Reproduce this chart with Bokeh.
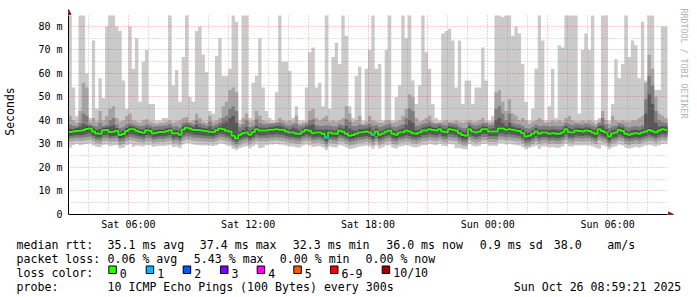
import datetime as dt
from bokeh.plotting import figure
from bokeh.layouts import column
from bokeh.models import (FixedTicker, CustomJSTickFormatter, DatetimeTickFormatter,
                          Arrow, NormalHead, Range1d, ColumnDataSource, Title)
from bokeh.core.properties import value
from bokeh.embed import file_html
from bokeh.resources import INLINE

# ---------------- data (milliseconds, 10-minute bins) ----------------
START = dt.datetime(2025, 10, 25, 3, 0)
STEP_MIN = 10

rtt_max = [100, 54, 42, 100, 100, 60, 41, 74, 45, 58,
           49.5, 80, 100, 100, 80, 78, 57, 45, 80, 62,
           75, 48, 65, 70, 47, 47, 40, 40, 41, 41,
           100, 55, 61.5, 48, 67, 100, 50, 48, 78, 80,
           68, 60.5, 44, 43, 67.5, 75, 59, 59, 62, 100,
           82, 40, 100, 100, 41, 56, 59, 75, 54, 44,
           41, 40, 52, 100, 65, 65, 61, 41, 46, 40,
           40, 54, 69, 71, 54, 56, 46, 100, 45, 67,
           73, 64, 100, 76, 46, 41, 59, 63, 40, 62,
           70, 100, 62, 64, 40, 70, 100, 40, 50, 55,
           100, 75, 100, 57, 47, 55, 100, 69, 62, 47,
           41, 40, 77, 78, 79, 74, 54, 74, 47, 57,
           57, 47, 54, 54, 71, 57, 40, 42, 100, 100,
           84, 100, 100, 76, 80, 77, 64, 48, 40, 45,
           62, 100, 74, 40, 46, 62, 41, 72, 71, 100,
           100, 100, 100, 43, 70, 77, 70, 100, 40, 41,
           100, 100, 40, 47, 66, 58, 64, 100, 67, 74,
           72, 58, 82, 57, 100, 100, 53, 53, 80, 80]

rtt_p9 = [42, 40, 39, 44, 56, 54, 39.5, 41, 39.5, 44,
          40, 42, 45, 46, 41, 39.5, 40, 42, 43, 40,
          39.5, 39, 40, 40.5, 39.5, 39, 38.5, 39, 39, 39.5,
          40, 39, 39.5, 40, 41, 41.5, 39.5, 40, 43, 41,
          39.5, 39, 42, 39.5, 40, 41, 46, 48, 53, 54,
          52, 38.5, 41, 43, 39.5, 40, 44, 42, 40, 39.5,
          39, 39, 39.5, 41, 40, 39.5, 40, 39.5, 42, 38.5,
          39, 39.5, 44, 45, 41, 40, 41, 42, 39.5, 40,
          39.5, 40, 41, 46, 43, 39.5, 40, 42, 38.5, 39.5,
          42, 40, 39.5, 39, 39, 40, 40, 39, 39.5, 40,
          42, 45, 51, 50, 41, 39.5, 40, 41, 42, 39.5,
          39, 39, 39.5, 40, 39.5, 39.5, 40, 39.5, 39, 39.5,
          40, 39.5, 39.5, 40, 41, 39.5, 39, 39.5, 52, 53,
          48, 44, 49, 43, 42, 40, 41, 40, 38.5, 39.5,
          40, 41, 40, 39, 39.5, 40, 39.5, 40, 39.5, 41,
          42, 40, 39.5, 39.5, 40, 39.5, 40, 39.5, 38.5, 39.5,
          44, 40, 38.5, 42, 40, 39.5, 40, 39.5, 39.5, 40,
          40, 41, 42, 56, 68, 62, 50, 43, 42, 41]

rtt_p8 = [38.3, 37.8, 37.5, 39.0, 43.0, 42.0, 38.3, 37.8, 37.4, 39.0,
          37.8, 38.2, 40.0, 41.0, 38.3, 36.8, 37.2, 38.3, 38.8, 38.3,
          38.0, 37.5, 37.8, 38.4, 38.0, 37.4, 37.5, 37.6, 37.8, 38.0,
          38.4, 37.4, 37.5, 37.0, 38.9, 39.3, 38.8, 38.3, 40.0, 38.8,
          38.3, 37.9, 39.5, 37.8, 38.4, 39.2, 41.0, 42.0, 45.0, 46.0,
          44.0, 37.2, 38.3, 40.0, 37.2, 37.9, 40.5, 38.8, 38.4, 38.4,
          38.6, 38.6, 38.9, 39.2, 38.7, 38.0, 37.9, 38.4, 38.6, 37.5,
          37.9, 38.6, 40.0, 40.5, 38.0, 37.8, 37.6, 38.0, 37.9, 37.5,
          37.4, 38.5, 38.0, 40.5, 39.5, 37.6, 37.6, 38.3, 37.9, 38.1,
          38.6, 37.8, 38.1, 37.2, 37.5, 38.2, 38.6, 37.3, 37.2, 37.9,
          38.4, 41.0, 45.0, 44.0, 37.7, 37.9, 38.6, 38.8, 39.4, 38.6,
          38.4, 38.8, 38.2, 38.0, 38.8, 38.6, 38.4, 37.4, 36.8, 36.7,
          38.9, 38.2, 37.8, 38.3, 38.9, 38.8, 38.0, 38.2, 45.0, 46.0,
          43.0, 40.0, 43.0, 39.0, 38.5, 38.3, 37.6, 36.8, 36.6, 37.3,
          38.3, 37.6, 37.8, 37.7, 37.4, 37.8, 37.5, 37.4, 37.8, 39.0,
          38.4, 38.0, 38.6, 38.4, 38.2, 38.6, 38.4, 37.8, 37.3, 38.9,
          41.0, 38.3, 36.8, 37.5, 37.8, 38.8, 38.4, 37.4, 37.0, 37.4,
          37.6, 37.4, 38.0, 49.0, 59.0, 55.0, 44.0, 40.0, 39.2, 39.0]

rtt_p7 = [36.5, 36.4, 36.8, 37.4, 38.5, 38.0, 37.6, 36.6, 35.9, 36.4,
          36.9, 37.2, 37.6, 38.0, 36.8, 35.2, 35.6, 36.8, 37.6, 37.3,
          36.8, 36.3, 36.1, 37.0, 36.7, 35.8, 36.0, 36.3, 36.2, 36.7,
          37.0, 35.7, 35.9, 35.3, 37.5, 38.2, 37.8, 37.2, 38.2, 37.2,
          36.8, 36.6, 37.4, 36.2, 37.0, 37.9, 38.8, 39.5, 41.0, 42.0,
          39.0, 35.2, 36.0, 37.2, 35.3, 36.3, 37.8, 37.0, 36.9, 36.9,
          37.2, 37.3, 37.6, 37.8, 37.3, 36.6, 36.3, 37.0, 36.5, 35.6,
          36.6, 37.3, 38.0, 38.3, 36.3, 36.2, 36.0, 36.2, 36.2, 35.8,
          35.6, 37.0, 36.5, 37.8, 36.6, 35.8, 35.6, 36.4, 36.3, 36.6,
          37.0, 35.6, 36.6, 35.4, 35.8, 36.6, 37.0, 35.7, 35.4, 36.2,
          36.6, 38.2, 40.0, 39.0, 35.8, 36.2, 37.0, 37.4, 37.8, 37.1,
          36.9, 37.5, 36.6, 36.5, 37.5, 37.3, 37.0, 36.0, 35.3, 35.1,
          37.5, 36.6, 36.3, 36.7, 37.6, 37.3, 36.4, 36.7, 40.0, 41.0,
          39.0, 37.6, 39.0, 37.5, 37.0, 36.8, 36.1, 35.0, 35.0, 35.7,
          36.8, 36.0, 36.2, 36.1, 36.0, 36.3, 36.0, 35.9, 36.2, 37.6,
          36.8, 36.4, 37.0, 36.9, 36.7, 37.1, 36.9, 36.3, 35.8, 37.6,
          38.0, 36.4, 35.0, 36.0, 36.3, 37.4, 37.0, 35.8, 35.4, 35.9,
          36.1, 35.8, 36.4, 43.0, 51.0, 47.0, 39.0, 37.4, 37.6, 37.5]

rtt_med = [35.1, 35.3, 35.5, 35.6, 35.8, 36.4, 36.6, 35.3, 34.5, 34.3,
           35.8, 35.9, 35.0, 35.2, 35.6, 33.8, 34.2, 35.5, 36.3, 36.3,
           35.6, 35.1, 34.8, 35.8, 35.6, 34.5, 34.8, 35.1, 35.0, 35.4,
           35.8, 34.4, 34.6, 33.9, 36.2, 37.0, 36.6, 36.0, 35.9, 35.8,
           35.6, 35.4, 35.2, 35.0, 35.8, 36.6, 36.3, 35.6, 35.3, 33.5,
           32.3, 33.9, 34.6, 34.9, 33.9, 35.0, 36.3, 35.7, 35.7, 35.7,
           36.0, 36.0, 36.3, 36.0, 36.0, 35.3, 34.9, 34.9, 34.3, 34.3,
           35.3, 36.0, 35.6, 34.6, 34.9, 34.9, 34.3, 32.8, 34.9, 34.5,
           34.3, 35.7, 35.2, 34.3, 33.5, 33.8, 34.3, 34.9, 35.0, 35.3,
           34.9, 33.9, 35.3, 33.9, 34.5, 35.3, 35.7, 34.3, 33.9, 34.9,
           35.0, 35.7, 35.3, 34.6, 34.3, 34.9, 35.7, 35.7, 36.3, 35.9,
           35.7, 36.3, 35.3, 35.0, 36.3, 36.0, 35.7, 34.6, 33.8, 33.5,
           36.3, 35.3, 34.9, 35.3, 36.3, 36.3, 35.3, 35.3, 35.3, 36.6,
           36.6, 36.0, 36.3, 36.0, 35.7, 35.5, 34.6, 33.2, 33.5, 34.3,
           35.3, 34.3, 34.9, 34.9, 34.3, 34.6, 34.3, 34.3, 34.9, 36.3,
           35.0, 34.9, 35.7, 35.5, 35.3, 35.7, 35.5, 34.9, 34.3, 36.3,
           35.5, 34.9, 33.2, 34.5, 34.9, 36.0, 35.5, 34.3, 33.9, 34.3,
           34.6, 34.3, 34.9, 35.3, 35.9, 35.4, 34.9, 35.7, 36.3, 36.0]

rtt_p4 = [33.4, 33.6, 33.8, 33.7, 33.9, 34.2, 34.4, 33.5, 32.8, 32.6,
          33.8, 34.0, 33.2, 33.4, 33.6, 32.2, 32.6, 33.6, 34.2, 34.0,
          33.6, 33.3, 33.0, 33.8, 33.7, 32.8, 33.0, 33.3, 33.2, 33.5,
          33.9, 32.6, 32.9, 32.3, 34.0, 34.6, 34.5, 34.0, 33.8, 33.7,
          33.6, 33.5, 33.3, 33.2, 33.8, 34.5, 34.2, 33.6, 33.2, 31.8,
          31.0, 32.2, 32.8, 33.0, 32.2, 33.0, 34.0, 33.6, 33.6, 33.7,
          34.0, 34.0, 34.2, 34.0, 33.9, 33.3, 33.0, 33.0, 32.6, 32.6,
          33.4, 34.0, 33.6, 32.8, 33.0, 33.1, 32.6, 31.2, 33.0, 32.7,
          32.6, 33.7, 33.3, 32.6, 31.9, 32.1, 32.6, 33.0, 33.1, 33.4,
          33.0, 32.0, 33.4, 32.1, 32.7, 33.4, 33.7, 32.5, 32.2, 33.0,
          33.2, 33.7, 33.4, 32.8, 32.6, 33.0, 33.7, 33.8, 34.2, 33.9,
          33.7, 34.2, 33.4, 33.1, 34.2, 34.0, 33.7, 32.7, 32.0, 31.8,
          34.2, 33.4, 33.0, 33.4, 34.2, 34.2, 33.4, 33.4, 33.3, 34.5,
          34.5, 34.0, 34.2, 34.0, 33.7, 33.5, 32.7, 31.5, 31.7, 32.5,
          33.4, 32.5, 33.0, 33.0, 32.5, 32.8, 32.5, 32.5, 33.0, 34.2,
          33.1, 33.0, 33.7, 33.5, 33.4, 33.7, 33.5, 33.0, 32.5, 34.2,
          33.5, 33.0, 31.5, 32.7, 33.0, 34.0, 33.5, 32.5, 32.1, 32.5,
          32.8, 32.5, 33.0, 33.4, 33.9, 33.5, 33.0, 33.7, 34.2, 34.1]

rtt_p3 = [32.4, 32.5, 32.8, 32.6, 32.8, 33.0, 33.2, 32.4, 31.8, 31.6,
          32.6, 32.8, 32.2, 32.3, 32.5, 31.0, 31.4, 32.5, 33.0, 32.8,
          32.4, 32.2, 31.9, 32.6, 32.5, 31.8, 32.0, 32.2, 32.1, 32.4,
          32.7, 31.6, 31.8, 31.2, 32.8, 33.3, 33.2, 32.8, 32.6, 32.5,
          32.4, 32.3, 32.2, 32.1, 32.6, 33.2, 33.0, 32.5, 32.0, 30.8,
          30.0, 31.0, 31.7, 32.0, 31.2, 32.0, 32.8, 32.4, 32.5, 32.5,
          32.8, 32.8, 33.0, 32.8, 32.7, 32.2, 31.9, 31.9, 31.5, 31.5,
          32.3, 32.8, 32.4, 31.7, 31.9, 32.0, 31.5, 30.2, 31.9, 31.6,
          31.5, 32.5, 32.2, 31.5, 30.8, 31.0, 31.5, 31.9, 32.0, 32.3,
          31.9, 30.9, 32.2, 31.0, 31.6, 32.3, 32.5, 31.4, 31.1, 31.9,
          32.1, 32.5, 32.2, 31.7, 31.5, 31.9, 32.5, 32.6, 33.0, 32.7,
          32.5, 33.0, 32.2, 32.0, 33.0, 32.8, 32.5, 31.6, 30.8, 30.6,
          33.0, 32.2, 31.9, 32.2, 33.0, 33.0, 32.2, 32.2, 32.1, 33.2,
          33.2, 32.8, 33.0, 32.8, 32.5, 32.4, 31.6, 30.4, 30.6, 31.4,
          32.2, 31.4, 31.9, 31.9, 31.4, 31.7, 31.4, 31.4, 31.9, 33.0,
          32.0, 31.9, 32.5, 32.4, 32.3, 32.5, 32.4, 31.9, 31.4, 33.0,
          32.4, 31.9, 30.4, 31.6, 31.9, 32.8, 32.4, 31.4, 31.0, 31.4,
          31.7, 31.4, 31.9, 32.3, 32.7, 32.4, 31.9, 32.5, 33.0, 32.9]

rtt_p2 = [31.0, 31.2, 31.5, 31.3, 31.4, 31.6, 31.8, 31.0, 30.4, 30.2,
          31.2, 31.4, 30.8, 30.9, 31.1, 29.6, 30.0, 31.1, 31.6, 31.4,
          31.0, 30.8, 30.5, 31.2, 31.1, 30.4, 30.6, 30.8, 30.7, 31.0,
          31.3, 30.2, 30.4, 29.8, 31.4, 31.9, 31.8, 31.4, 31.2, 31.1,
          31.0, 30.9, 30.8, 30.7, 31.2, 31.8, 31.6, 31.1, 30.6, 29.4,
          28.6, 29.6, 30.3, 30.6, 29.8, 30.6, 31.4, 31.0, 31.1, 31.1,
          31.4, 31.4, 31.6, 31.4, 31.3, 30.8, 30.5, 30.5, 30.1, 30.1,
          30.9, 31.4, 31.0, 30.3, 30.5, 30.6, 30.1, 28.8, 30.5, 30.2,
          30.1, 31.1, 30.8, 30.1, 29.4, 29.6, 30.1, 30.5, 30.6, 30.9,
          30.5, 29.5, 30.8, 29.6, 30.2, 30.9, 31.1, 30.0, 29.7, 30.5,
          30.7, 31.1, 30.8, 30.3, 30.1, 30.5, 31.1, 31.2, 31.6, 31.3,
          31.1, 31.6, 30.8, 30.6, 31.6, 31.4, 31.1, 30.2, 29.4, 29.2,
          31.6, 30.8, 30.5, 30.8, 31.6, 31.6, 30.8, 30.8, 30.7, 31.8,
          31.8, 31.4, 31.6, 31.4, 31.1, 31.0, 30.2, 29.0, 29.2, 30.0,
          30.8, 30.0, 30.5, 30.5, 30.0, 30.3, 30.0, 30.0, 30.5, 31.6,
          30.6, 30.5, 31.1, 31.0, 30.9, 31.1, 31.0, 30.5, 30.0, 31.6,
          31.0, 30.5, 29.0, 30.2, 30.5, 31.4, 31.0, 30.0, 29.6, 30.0,
          30.3, 30.0, 30.5, 30.9, 31.3, 31.0, 30.5, 31.1, 31.6, 31.5]

rtt_min = [28.4, 29.6, 30.0, 29.5, 29.8, 30.0, 30.2, 29.4, 28.8, 28.6,
           29.6, 29.8, 29.0, 29.3, 29.5, 28.2, 28.4, 29.5, 30.0, 28.8,
           29.4, 29.2, 28.9, 29.6, 29.5, 28.8, 29.0, 29.2, 29.1, 29.4,
           29.7, 28.6, 28.8, 28.2, 29.8, 30.3, 30.2, 29.8, 29.6, 29.5,
           29.4, 29.3, 29.2, 29.1, 29.6, 30.2, 30.0, 29.5, 29.0, 28.0,
           27.4, 28.2, 28.7, 29.0, 28.2, 29.0, 29.8, 28.2, 28.5, 29.5,
           29.8, 29.8, 30.0, 29.8, 29.7, 29.2, 28.9, 28.9, 28.5, 28.5,
           29.3, 29.8, 29.4, 28.7, 28.9, 29.0, 28.5, 27.4, 28.9, 28.6,
           28.5, 29.5, 29.2, 28.5, 27.9, 28.1, 28.5, 28.9, 29.0, 29.3,
           28.9, 28.0, 29.2, 28.1, 28.6, 29.3, 29.5, 28.4, 28.1, 28.9,
           29.1, 29.5, 29.2, 28.7, 28.5, 28.9, 29.5, 29.6, 30.0, 29.7,
           29.5, 30.0, 29.2, 29.0, 30.0, 29.8, 28.2, 28.3, 27.9, 27.8,
           30.0, 29.2, 28.9, 29.2, 30.0, 30.0, 29.2, 29.2, 29.1, 30.2,
           30.2, 29.8, 30.0, 29.8, 29.5, 29.4, 28.6, 27.6, 28.4, 28.8,
           29.2, 28.0, 28.9, 28.9, 28.4, 28.7, 28.4, 28.4, 28.9, 30.0,
           29.0, 28.9, 29.5, 29.4, 29.3, 29.5, 29.4, 28.9, 28.4, 28.0,
           29.4, 28.9, 27.8, 28.6, 28.9, 29.8, 29.4, 28.4, 28.0, 28.4,
           28.7, 28.4, 28.9, 29.3, 29.7, 29.4, 28.9, 29.5, 30.0, 29.9]

# bins where some pings were lost, and how many
loss_bins = [77, 91]
loss_count = [1, 1]

loss_labels = ["0", "1", "2", "3", "4", "5", "6-9", "10/10"]
loss_colors = ["#26ff00", "#00b8ff", "#0059ff", "#7e00ff", "#ff00ff",
               "#ff5500", "#ff0000", "#a10000"]

tick_times = ["2025-10-25 06:00", "2025-10-25 12:00", "2025-10-25 18:00",
              "2025-10-26 00:00", "2025-10-26 06:00"]
y_ticks = [0, 10, 20, 30, 40, 50, 60, 70, 80]
y_minor = [5, 15, 25, 35, 45, 55, 65, 75]

stats_rtt = ["35.1 ms avg", "37.4 ms max", "32.3 ms min", "36.0 ms now",
             "0.9 ms sd", "38.0", "am/s"]
stats_loss = ["0.06 % avg", "5.43 % max", "0.00 % min", "0.00 % now"]
probe_text = "10 ICMP Echo Pings (100 Bytes) every 300s"
stamp_text = "Sun Oct 26 08:59:21 2025"

# ---------------- helpers ----------------
EPOCH = dt.datetime(1970, 1, 1)


def ms(d):
    return (d - EPOCH).total_seconds() * 1000.0


n = len(rtt_med)
t = [START + dt.timedelta(minutes=STEP_MIN * i) for i in range(n + 1)]
END = t[-1]
Y_CLIP = 84.66                       # upper limit of the rrd graph
X_VIEW_END = START + dt.timedelta(minutes=1821)   # room for the arrow head
Y_VIEW_TOP = 87.62


def ext(a, clip=True):
    vals = [min(v, Y_CLIP) for v in a] if clip else list(a)
    return vals + [vals[-1]]


MONO = "DejaVu Sans Mono"

# ---------------- main plot ----------------
p = figure(width=697, height=232, x_axis_type="datetime",
           x_range=Range1d(ms(START), ms(X_VIEW_END)),
           y_range=Range1d(0, Y_VIEW_TOP),
           min_border_left=67, min_border_right=23, min_border_top=8,
           min_border_bottom=17, output_backend="svg", toolbar_location=None,
           title=None)
p.outline_line_color = None
p.background_fill_color = "white"
p.border_fill_color = "white"
p.frame_align = False

layers = [(rtt_min, rtt_max, "#cacaca"),
          (rtt_p2, rtt_p9, "#a4a4a4"),
          (rtt_p3, rtt_p8, "#7e7e7e"),
          (rtt_p4, rtt_p7, "#585858")]
for lo, hi, col in layers:
    p.varea_step(x=t, y1=ext(lo), y2=ext(hi), step_mode="after",
                 fill_color=col)

p.step(x=t, y=ext(rtt_med), mode="after", line_color="#323232", line_width=3)
p.step(x=t, y=ext(rtt_med), mode="after", line_color=loss_colors[0],
       line_width=2)
for b, c in zip(loss_bins, loss_count):
    p.segment(x0=[t[b]], y0=[rtt_med[b]], x1=[t[b + 1]], y1=[rtt_med[b]],
              line_color=loss_colors[c], line_width=2.5)

# grids (drawn over the smoke like rrdtool does)
hour = dt.timedelta(hours=1)
hours_all = [START + hour * k for k in range(30)]
major_grid = [ms(h) for h in hours_all if h.hour % 3 == 0]
minor_grid = [ms(h) for h in hours_all if h.hour % 3 != 0]
p.xgrid.ticker = FixedTicker(ticks=major_grid, minor_ticks=minor_grid)
p.xgrid.cross_bounds = (0, Y_CLIP)
p.ygrid.cross_bounds = (ms(START), ms(END))
for g in (p.xgrid[0], p.ygrid[0]):
    g.grid_line_color = "#ff0000"
    g.grid_line_alpha = 0.4
    g.grid_line_dash = "1 2"
    g.minor_grid_line_color = "#8c8c8c"
    g.minor_grid_line_alpha = 0.55
    g.minor_grid_line_dash = "1 2"
    g.level = "overlay"

# axes
p.xaxis.ticker = FixedTicker(
    ticks=[ms(dt.datetime.strptime(s, "%Y-%m-%d %H:%M")) for s in tick_times])
fmt = "%a %H:%M"
p.xaxis.formatter = DatetimeTickFormatter(hours=fmt, hourmin=fmt, days=fmt,
                                          minutes=fmt, minsec=fmt, months=fmt)
p.xaxis.bounds = (ms(START), ms(END))
p.yaxis.ticker = FixedTicker(ticks=y_ticks, minor_ticks=y_minor)
p.yaxis.bounds = (0, Y_CLIP)
p.yaxis.formatter = CustomJSTickFormatter(
    code="return tick == 0 ? '0' : tick.toFixed(0) + ' m';")
for ax in (p.xaxis[0], p.yaxis[0]):
    ax.major_tick_out = 0
    ax.major_tick_in = 0
    ax.minor_tick_out = 0
    ax.minor_tick_in = 0
    ax.axis_line_color = "black"
    ax.major_label_text_font = MONO
    ax.major_label_text_font_size = "10px"
    ax.major_label_text_color = "black"
p.xaxis.major_label_standoff = 4
p.yaxis.major_label_standoff = 6
p.yaxis.axis_label = "Seconds"
p.yaxis.axis_label_text_font = MONO
p.yaxis.axis_label_text_font_size = "11.5px"
p.yaxis.axis_label_text_font_style = "normal"
p.yaxis.axis_label_text_color = "black"
p.yaxis.axis_label_standoff = 18

# axis arrows
head_col = "#9b1010"
p.add_layout(Arrow(end=NormalHead(size=5, fill_color=head_col,
                                  line_color=head_col),
                   x_start=ms(END), y_start=0,
                   x_end=ms(END) + 18 * 60 * 1000, y_end=0,
                   line_color="black", line_width=1))
p.add_layout(Arrow(end=NormalHead(size=5, fill_color=head_col,
                                  line_color=head_col),
                   x_start=ms(START), y_start=Y_CLIP,
                   x_end=ms(START), y_end=87.2,
                   line_color="black", line_width=1))

# vertical credit text
p.add_layout(Title(text="RRDTOOL / TOBI OETIKER", text_font=MONO,
                   text_font_size="8.3px", text_color="#b0b0b0",
                   text_font_style="normal", align="left", standoff=8),
             "right")

# ---------------- legend / info area ----------------
q = figure(width=697, height=65, x_range=Range1d(0, 697),
           y_range=Range1d(65, 0), x_axis_location=None,
           y_axis_location=None, min_border=0, output_backend="svg",
           toolbar_location=None, title=None)
q.outline_line_color = None
q.grid.visible = False
q.border_fill_color = "white"
q.frame_align = False

row_y = [12.3, 26.4, 40.5, 54.6]
txt_x, txt_y, txt = [], [], []


def put(x, y, s):
    txt_x.append(x)
    txt_y.append(y)
    txt.append(s)


put(16, row_y[0], "median rtt:")
for x, s in zip([107, 199.3, 292.3, 385.7, 479.3, 553.3, 606.7], stats_rtt):
    put(x, row_y[0], s)
put(16, row_y[1], "packet loss:")
for x, s in zip([107, 193.3, 279.3, 365], stats_loss):
    put(x, row_y[1], s)
put(16, row_y[2], "loss color:")
box_x = [108.3, 145.7, 182.7, 220, 256.7, 293.3, 330, 381.7]
for x, s in zip(box_x, loss_labels):
    put(x + 11, row_y[2], s)
put(16, row_y[3], "probe:")
put(107, row_y[3], probe_text)
put(513.3, row_y[3], stamp_text)

q.text(x="x", y="y", text="t",
       source=ColumnDataSource(dict(x=txt_x, y=txt_y, t=txt)),
       text_font=value(MONO), text_font_size="11.6px", text_color="black",
       text_baseline="alphabetic", text_align="left")
q.quad(left=box_x, right=[x + 7.5 for x in box_x],
       top=[33.5] * len(box_x), bottom=[41] * len(box_x),
       fill_color=loss_colors, line_color="black", line_width=1)

layout = column(p, q, spacing=0)
open("out.html", "w").write(file_html(layout, INLINE, "smokeping"))
